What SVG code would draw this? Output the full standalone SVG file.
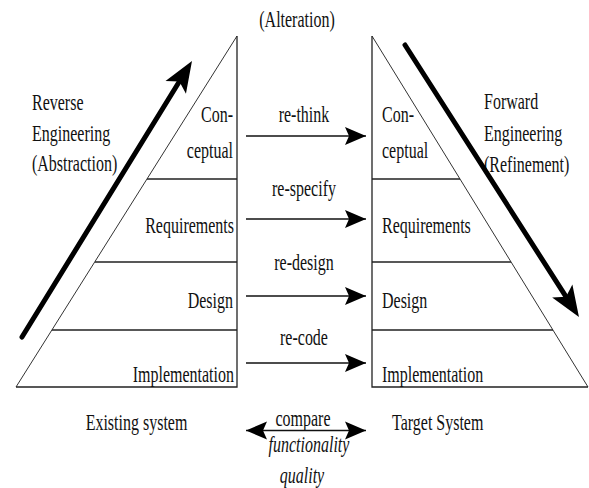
<svg xmlns="http://www.w3.org/2000/svg" width="589" height="488" viewBox="0 0 589 488">
  <style>
    .t { font-family: "Liberation Serif", "Times New Roman", serif; font-size: 16px; fill: #111; }
    .i { font-style: italic; }
    .e { text-anchor: end; }
    .m { text-anchor: middle; }
    .edge { stroke: #222; stroke-width: 1.3; fill: none; }
    .hyp { stroke: #333; stroke-width: 1; fill: none; }
    .conn { stroke: #111; stroke-width: 1.5; fill: none; }
    .big { stroke: #000; stroke-width: 5; fill: none; stroke-linecap: round; }
  </style>
  <defs>
    <marker id="head" markerUnits="userSpaceOnUse" markerWidth="24" markerHeight="20" viewBox="-22 -10 24 20" refX="0" refY="0" orient="auto-start-reverse">
      <path d="M0,0 L-21,-9 L-17,0 L-21,9 Z" fill="#000"/>
    </marker>
    <!-- thick arrow head; the shaft stops 20px short of the tip -->
    <marker id="bighead" markerUnits="userSpaceOnUse" markerWidth="34" markerHeight="28" viewBox="-32 -14 34 28" refX="-20" refY="0" orient="auto">
      <path d="M0,0 L-31,-12 L-24,0 L-31,12 Z" fill="#000"/>
    </marker>
  </defs>
  <rect width="589" height="488" fill="#fff"/>

  <!-- existing system pyramid -->
  <g id="existing-system">
    <path class="hyp" d="M237,36 L16,387"/>
    <path class="edge" d="M237,36 L237,387 L16,387"/>
    <path class="edge" d="M147,179 H237 M95,262 H237 M52,330 H237"/>
    <text class="t e" transform="translate(233,121.5) scale(1,1.4)">Con-</text>
    <text class="t e" transform="translate(233,158) scale(1,1.4)">ceptual</text>
    <text class="t e" transform="translate(234,233) scale(1,1.4)">Requirements</text>
    <text class="t e" transform="translate(233,308) scale(1,1.4)">Design</text>
    <text class="t e" transform="translate(234,381.5) scale(1,1.4)">Implementation</text>
    <text class="t m" transform="translate(136.5,430) scale(1,1.4)">Existing system</text>
  </g>

  <!-- target system pyramid -->
  <g id="target-system">
    <path class="hyp" d="M372,36 L588,387"/>
    <path class="edge" d="M372,36 L372,387 L588,387"/>
    <path class="edge" d="M372,179 H460 M372,262 H511 M372,330 H553"/>
    <text class="t" transform="translate(382,121.5) scale(1,1.4)">Con-</text>
    <text class="t" transform="translate(382,158) scale(1,1.4)">ceptual</text>
    <text class="t" transform="translate(382,233) scale(1,1.4)">Requirements</text>
    <text class="t" transform="translate(382,308) scale(1,1.4)">Design</text>
    <text class="t" transform="translate(382,381.5) scale(1,1.4)">Implementation</text>
    <text class="t" transform="translate(392,430) scale(1,1.4)">Target System</text>
  </g>

  <!-- side labels -->
  <g id="reverse-engineering">
    <text class="t" transform="translate(32,110) scale(1,1.4)">Reverse</text>
    <text class="t" transform="translate(32,141) scale(1,1.4)">Engineering</text>
    <text class="t" transform="translate(32,171) scale(1,1.4)">(Abstraction)</text>
  </g>
  <g id="forward-engineering">
    <text class="t" transform="translate(484,109) scale(1,1.4)">Forward</text>
    <text class="t" transform="translate(484,141) scale(1,1.4)">Engineering</text>
    <text class="t" transform="translate(484,172) scale(1,1.4)">(Refinement)</text>
  </g>
  <g id="alteration">
    <text class="t m" transform="translate(297,27) scale(1,1.4)">(Alteration)</text>
  </g>

  <!-- connectors -->
  <g id="connectors">
    <path class="big" d="M22,337 L181.5,78" marker-end="url(#bighead)"/>
    <path class="big" d="M405,45 L568.2,300.2" marker-end="url(#bighead)"/>
    <path class="conn" d="M246,136 H366" marker-end="url(#head)"/>
    <path class="conn" d="M246,219 H366" marker-end="url(#head)"/>
    <path class="conn" d="M246,296 H366" marker-end="url(#head)"/>
    <path class="conn" d="M246,363 H366" marker-end="url(#head)"/>
    <path class="conn" d="M246,430.5 H366" marker-start="url(#head)" marker-end="url(#head)"/>
    <text class="t m" transform="translate(304,121.5) scale(1,1.4)">re-think</text>
    <text class="t m" transform="translate(304,196) scale(1,1.4)">re-specify</text>
    <text class="t m" transform="translate(304,270) scale(1,1.4)">re-design</text>
    <text class="t m" transform="translate(304,345) scale(1,1.4)">re-code</text>
    <text class="t m" transform="translate(303,426) scale(1,1.4)">compare</text>
    <text class="t i m" transform="translate(309,452) scale(1,1.4)">functionality</text>
    <text class="t i m" transform="translate(302,483) scale(1,1.4)">quality</text>
  </g>
</svg>
